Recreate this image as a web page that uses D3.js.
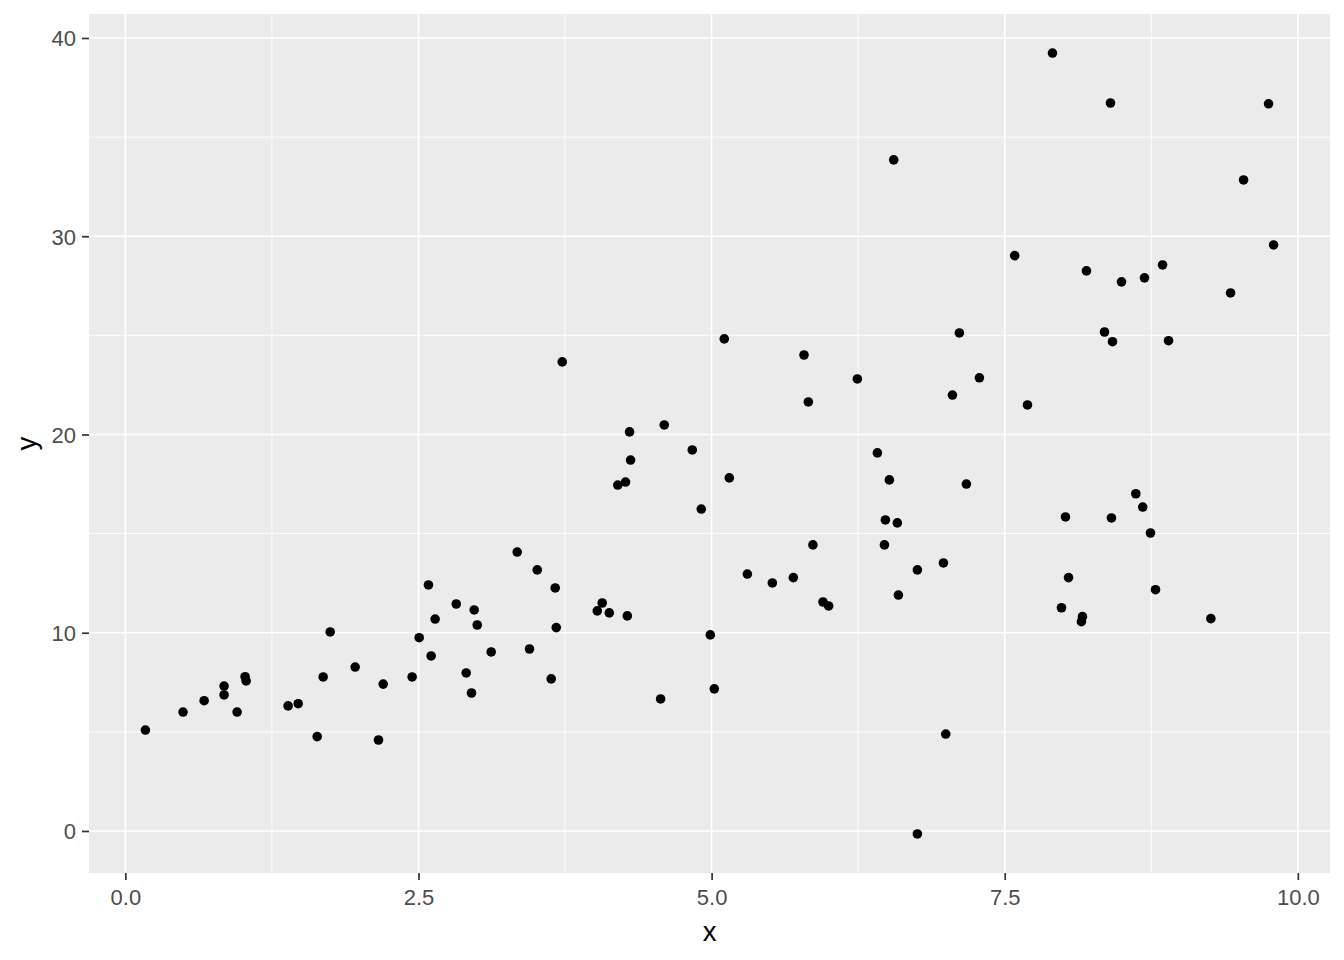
<!DOCTYPE html>
<html>
<head>
<meta charset="utf-8">
<script src="https://cdn.jsdelivr.net/npm/d3@7"></script>
<style>
  html, body { margin: 0; padding: 0; background: #ffffff; }
  svg { display: block; }
</style>
</head>
<body>
<svg id="chart" width="1344" height="960"></svg>
<script>
// ---- data ----
const xValues = [
  0.171, 0.492, 0.672, 0.842, 0.842, 0.953, 1.021, 1.030, 1.388, 1.474,
  1.636, 1.687, 1.747, 1.960, 2.159, 2.199, 2.446, 2.506, 2.585, 2.608,
  2.642, 2.822, 2.907, 2.952, 2.975, 3.001, 3.120, 3.342, 3.447, 3.513,
  3.632, 3.666, 3.675, 3.726, 4.025, 4.067, 4.127, 4.200, 4.266, 4.281,
  4.300, 4.309, 4.565, 4.596, 4.835, 4.912, 4.989, 5.023, 5.108, 5.151,
  5.305, 5.518, 5.697, 5.788, 5.825, 5.864, 5.950, 5.998, 6.243, 6.414,
  6.474, 6.482, 6.516, 6.553, 6.584, 6.593, 6.755, 6.755, 6.977, 6.997,
  7.054, 7.113, 7.173, 7.284, 7.585, 7.694, 7.907, 7.984, 8.018, 8.044,
  8.154, 8.163, 8.197, 8.351, 8.402, 8.410, 8.419, 8.496, 8.618, 8.677,
  8.692, 8.743, 8.786, 8.846, 8.897, 9.258, 9.426, 9.537, 9.750, 9.793
];
const yValues = [
  5.09, 6.00, 6.57, 7.31, 6.86, 6.00, 7.78, 7.57, 6.31, 6.42,
  4.76, 7.77, 10.04, 8.27, 4.59, 7.41, 7.77, 9.75, 12.41, 8.83,
  10.69, 11.45, 7.97, 6.96, 11.15, 10.39, 9.03, 14.07, 9.18, 13.17,
  7.67, 12.26, 10.26, 23.66, 11.10, 11.50, 11.00, 17.45, 17.60, 10.85,
  20.13, 18.71, 6.66, 20.48, 19.22, 16.24, 9.89, 7.17, 24.82, 17.81,
  12.96, 12.51, 12.78, 24.01, 21.64, 14.43, 11.55, 11.35, 22.80, 19.07,
  14.43, 15.69, 17.71, 33.85, 15.54, 11.90, 13.17, -0.15, 13.52, 4.89,
  21.99, 25.12, 17.50, 22.86, 29.02, 21.49, 39.24, 11.26, 15.84, 12.78,
  10.56, 10.81, 28.25, 25.17, 36.72, 15.79, 24.68, 27.70, 17.01, 16.34,
  27.90, 15.03, 12.17, 28.55, 24.73, 10.71, 27.14, 32.84, 36.68, 29.56
];
const xTicks = [0, 2.5, 5, 7.5, 10];
const xTickLabels = ["0.0", "2.5", "5.0", "7.5", "10.0"];
const xMinor = [1.25, 3.75, 6.25, 8.75];
const yTicks = [0, 10, 20, 30, 40];
const yTickLabels = ["0", "10", "20", "30", "40"];
const yMinor = [5, 15, 25, 35];
const xTitle = "x";
const yTitle = "y";

// ---- layout ----
const svg = d3.select("#chart");
const panel = { left: 89, right: 1330, top: 14, bottom: 873 };

function expand(ext) {
  const pad = (ext[1] - ext[0]) * 0.05;
  return [ext[0] - pad, ext[1] + pad];
}
const points = xValues.map((x, i) => ({ x, y: yValues[i] }));

const x = d3.scaleLinear()
  .domain(expand(d3.extent(xValues)))
  .range([panel.left, panel.right]);
const y = d3.scaleLinear()
  .domain(expand(d3.extent(yValues)))
  .range([panel.bottom, panel.top]);

// panel background
svg.append("rect")
  .attr("x", panel.left).attr("y", panel.top)
  .attr("width", panel.right - panel.left)
  .attr("height", panel.bottom - panel.top)
  .attr("fill", "#EBEBEB");

const grid = svg.append("g");
// minor grid
grid.selectAll("line.xminor").data(xMinor).enter().append("line")
  .attr("x1", d => x(d)).attr("x2", d => x(d))
  .attr("y1", panel.top).attr("y2", panel.bottom)
  .attr("stroke", "#ffffff").attr("stroke-width", 0.9);
grid.selectAll("line.yminor").data(yMinor).enter().append("line")
  .attr("y1", d => y(d)).attr("y2", d => y(d))
  .attr("x1", panel.left).attr("x2", panel.right)
  .attr("stroke", "#ffffff").attr("stroke-width", 0.9);
// major grid
grid.selectAll("line.xmajor").data(xTicks).enter().append("line")
  .attr("x1", d => x(d)).attr("x2", d => x(d))
  .attr("y1", panel.top).attr("y2", panel.bottom)
  .attr("stroke", "#ffffff").attr("stroke-width", 1.7);
grid.selectAll("line.ymajor").data(yTicks).enter().append("line")
  .attr("y1", d => y(d)).attr("y2", d => y(d))
  .attr("x1", panel.left).attr("x2", panel.right)
  .attr("stroke", "#ffffff").attr("stroke-width", 1.7);

// axes
const fontFam = "'Liberation Sans', Arial, sans-serif";
const xAxis = d3.axisBottom(x)
  .tickValues(xTicks)
  .tickFormat((d, i) => xTickLabels[i])
  .tickSize(7).tickPadding(0);
const gx = svg.append("g")
  .attr("transform", `translate(0,${panel.bottom})`)
  .call(xAxis);
gx.select(".domain").remove();
gx.selectAll(".tick line").attr("stroke", "#333333").attr("stroke-width", 1.7);
gx.selectAll(".tick text")
  .attr("fill", "#4D4D4D")
  .style("font-family", fontFam)
  .style("font-size", "22px")
  .attr("y", 32)
  .attr("dy", "0");

const yAxis = d3.axisLeft(y)
  .tickValues(yTicks)
  .tickFormat((d, i) => yTickLabels[i])
  .tickSize(7).tickPadding(6);
const gy = svg.append("g")
  .attr("transform", `translate(${panel.left},0)`)
  .call(yAxis);
gy.select(".domain").remove();
gy.selectAll(".tick line").attr("stroke", "#333333").attr("stroke-width", 1.7);
gy.selectAll(".tick text")
  .attr("fill", "#4D4D4D")
  .style("font-family", fontFam)
  .style("font-size", "22px")
  .attr("dy", "0.36em");

// points
svg.append("g").selectAll("circle").data(points).enter().append("circle")
  .attr("cx", d => x(d.x))
  .attr("cy", d => y(d.y))
  .attr("r", 4.8)
  .attr("fill", "#000000");

// titles
svg.append("text")
  .attr("x", (panel.left + panel.right) / 2)
  .attr("y", 941)
  .attr("text-anchor", "middle")
  .style("font-family", fontFam)
  .style("font-size", "27.5px")
  .attr("fill", "#000000")
  .text(xTitle);

svg.append("text")
  .attr("transform", `translate(36,${(panel.top + panel.bottom) / 2}) rotate(-90)`)
  .attr("text-anchor", "middle")
  .style("font-family", fontFam)
  .style("font-size", "27.5px")
  .attr("fill", "#000000")
  .text(yTitle);
</script>
</body>
</html>
